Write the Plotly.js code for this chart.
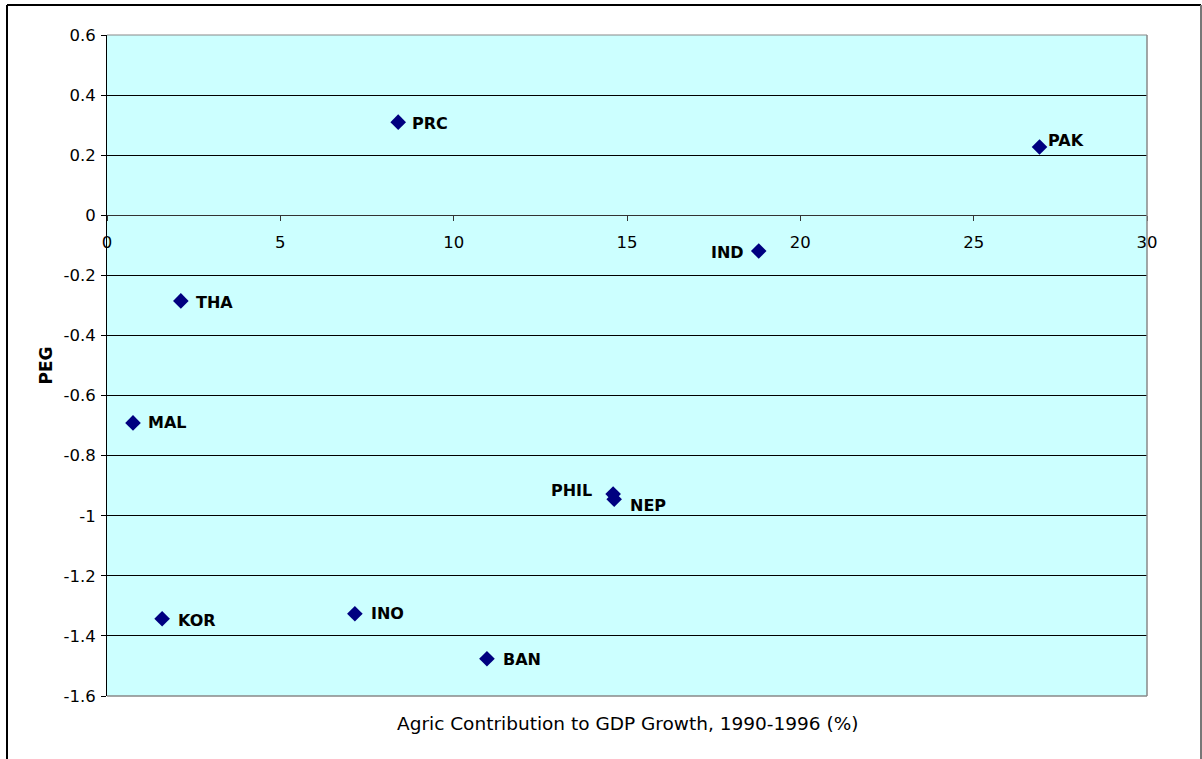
<!DOCTYPE html>
<html>
<head>
<meta charset="utf-8">
<script src="https://cdn.plot.ly/plotly-3.0.1.min.js"></script>
<style>
html,body{margin:0;padding:0;background:#fff;}
#chart{width:1202px;height:759px;}
</style>
</head>
<body>
<div id="chart"></div>
<script>
// Data
const countries = ["PRC", "PAK", "IND", "THA", "MAL", "PHIL", "NEP", "KOR", "INO", "BAN"];
const agricContribution = [8.4, 26.9, 18.8, 2.13, 0.75, 14.6, 14.63, 1.59, 7.15, 10.96];
const peg = [0.31, 0.227, -0.119, -0.285, -0.691, -0.928, -0.945, -1.343, -1.326, -1.476];
const yTickVals = [-1.6, -1.4, -1.2, -1, -0.8, -0.6, -0.4, -0.2, 0, 0.2, 0.4, 0.6];
const xTickVals = [0, 5, 10, 15, 20, 25, 30];

// Label placement (style)
const labelAnchor = ["left", "left", "right", "left", "left", "right", "left", "left", "left", "left"];
const labelDx = [12, 6, -13, 13, 13, -19, 14, 14, 14, 14];
const labelDy = [-1, 7, -1, -2, 0, 4, -6, -2, 0, -1];

const trace = {
  x: agricContribution,
  y: peg,
  mode: "markers",
  type: "scatter",
  marker: {symbol: "diamond", size: 12, color: "#000080"},
  hoverinfo: "x+y",
  showlegend: false
};

const axisFont = {family: "DejaVu Sans", size: 16.5, color: "#000"};

const annotations = countries.map((c, i) => ({
  x: agricContribution[i], y: peg[i], xref: "x", yref: "y",
  text: c, showarrow: false,
  xanchor: labelAnchor[i], yanchor: "middle",
  xshift: labelDx[i], yshift: labelDy[i],
  font: {family: "DejaVu Sans", size: 16, color: "#000", weight: "bold"}
}));
annotations.push({
  xref: "paper", yref: "paper", x: 0.5, y: -27 / 661, yanchor: "middle", xanchor: "center",
  showarrow: false, text: "Agric Contribution to GDP Growth, 1990-1996 (%)",
  font: {family: "DejaVu Sans", size: 18.5, color: "#000"}
});

const W = 1040, H = 661;
const layout = {
  width: 1202, height: 759,
  margin: {l: 107, r: 55, t: 35, b: 63},
  paper_bgcolor: "#ffffff",
  plot_bgcolor: "#CCFFFF",
  font: axisFont,
  xaxis: {
    range: [0, 30], tickvals: xTickVals, ticktext: xTickVals.map(String),
    showgrid: false, zeroline: false,
    anchor: "free", position: 1.6 / 2.2,
    showline: true, linecolor: "#333", linewidth: 1,
    ticks: "outside", ticklen: 5, tickcolor: "#333",
    ticklabelstandoff: 7,
    tickfont: axisFont, fixedrange: true
  },
  yaxis: {
    range: [-1.6, 0.6], tickvals: yTickVals, ticktext: yTickVals.map(v => String(v)),
    showgrid: true, gridcolor: "#000", gridwidth: 1, zeroline: false,
    showline: true, linecolor: "#000", linewidth: 1,
    ticks: "outside", ticklen: 5, tickcolor: "#000",
    ticklabelstandoff: 2,
    tickfont: axisFont,
    title: {text: "PEG", font: {family: "DejaVu Sans", size: 17, weight: "bold"}, standoff: 6},
    fixedrange: true
  },
  annotations: annotations,
  shapes: [
    {type: "line", xref: "paper", yref: "paper", x0: 0, x1: 1, y0: 1, y1: 1, line: {color: "#888", width: 1}},
    {type: "line", xref: "paper", yref: "paper", x0: 1, x1: 1, y0: 0, y1: 1, line: {color: "#888", width: 1.5}},
    {type: "line", xref: "paper", yref: "paper", x0: 0, x1: 1, y0: 0, y1: 0, line: {color: "#888", width: 1.5}},
    // outer chart border
    {type: "line", xref: "paper", yref: "paper", x0: -100 / W, x1: -100 / W, y0: -70 / H, y1: 1 + 30 / H, line: {color: "#000", width: 2}},
    {type: "line", xref: "paper", yref: "paper", x0: -100 / W, x1: 1 + 54 / W, y0: 1 + 30 / H, y1: 1 + 30 / H, line: {color: "#000", width: 2}},
    {type: "line", xref: "paper", yref: "paper", x0: 1 + 54 / W, x1: 1 + 54 / W, y0: -70 / H, y1: 1 + 30 / H, line: {color: "#777", width: 2}}
  ]
};

Plotly.newPlot("chart", [trace], layout, {displayModeBar: false, staticPlot: true});
</script>
</body>
</html>
